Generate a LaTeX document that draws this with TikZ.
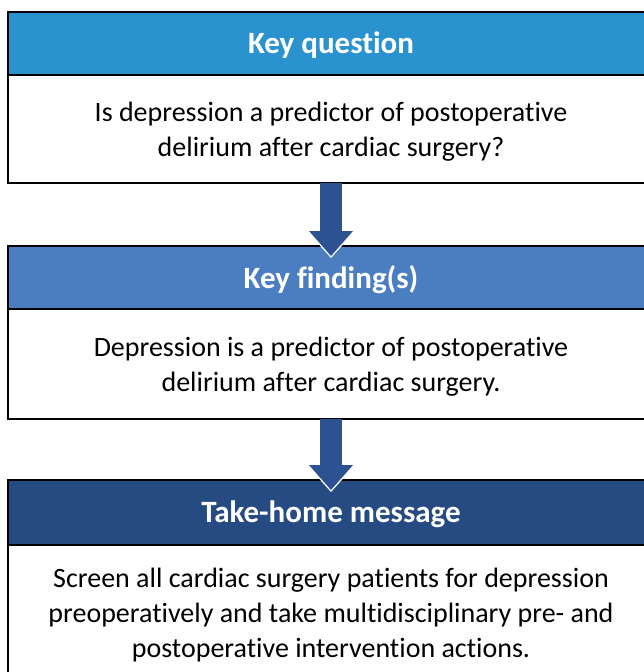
\documentclass[tikz,border=0pt]{standalone}
\usepackage{fontspec}
\setmainfont{Carlito}[Ligatures=NoCommon]
\usetikzlibrary{arrows.meta, positioning}

\definecolor{qblue}{RGB}{42,146,206}
\definecolor{fblue}{RGB}{74,126,193}
\definecolor{mblue}{RGB}{37,75,130}
\definecolor{arrowblue}{RGB}{44,82,146}

\begin{document}
\begin{tikzpicture}[
  x=1pt, y=1pt,
  node distance=0pt,
  head/.style={draw, line width=2pt, outer sep=0pt, inner sep=0pt, minimum width=646pt, minimum height=63pt,
    text=white, text depth=1pt, font=\fontsize{31}{36}\selectfont\bfseries},
  body/.style={draw, line width=2pt, outer sep=0pt, inner sep=0pt, minimum width=646pt, align=center,
    text depth=-14pt, font=\fontsize{28}{35}\selectfont},
  flow/.style={arrowblue, line width=22pt, shorten >=-10pt,
    -{Triangle[length=25pt, width=44pt, line width=0pt]},
    preaction={draw=white, shorten >=-12pt, -{Triangle[length=28pt, width=50pt, line width=0pt]}}}
]
\clip (0,0) rectangle (644,-672);

\node[head, fill=qblue, anchor=north west] (qhead) at (8,-12) {Key question};
\node[body, minimum height=108pt, below=of qhead] (qbody) {Is depression a predictor of postoperative\\delirium after cardiac surgery?};

\node[head, fill=fblue, below=63pt of qbody] (fhead) {Key finding(s)};
\node[body, minimum height=110pt, below=of fhead] (fbody) {Depression is a predictor of postoperative\\delirium after cardiac surgery.};

\node[head, fill=mblue, minimum height=65pt, below=61pt of fbody] (mhead) {Take-home message};
\node[body, minimum height=136pt, below=of mhead] (mbody) {Screen all cardiac surgery patients for depression\\preoperatively and take multidisciplinary pre- and\\postoperative intervention actions.};

\draw[flow] (qbody) -- (fhead);
\draw[flow] (fbody) -- (mhead);
\end{tikzpicture}
\end{document}
